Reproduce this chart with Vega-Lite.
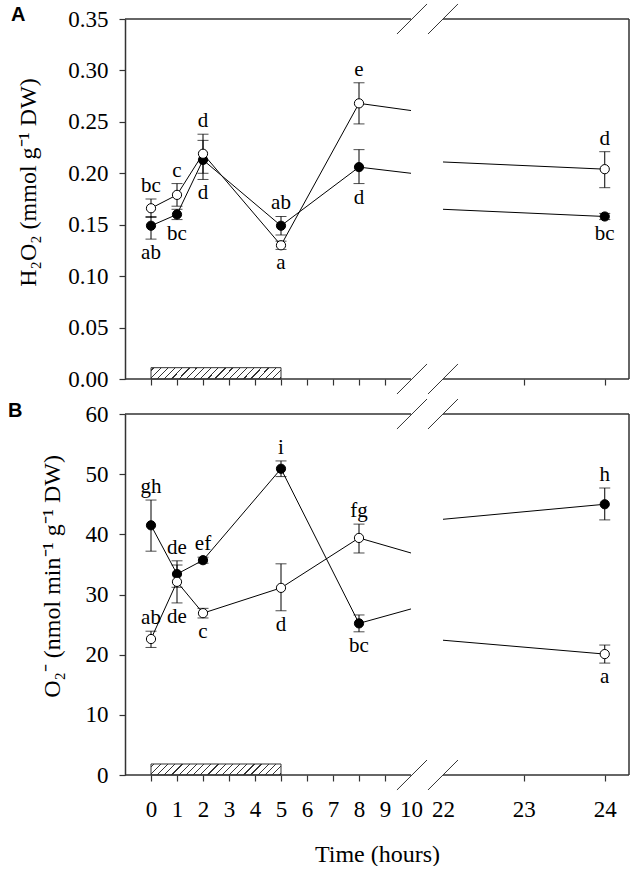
{
  "$schema": "https://vega.github.io/schema/vega-lite/v6.json",
  "padding": {"left": 8, "top": 3, "right": 0, "bottom": 0},
  "spacing": 35,
  "bounds": "flush",
  "datasets": {
    "pts": [
      {"panel": "A", "series": "filled", "t": 0, "v": 0.149, "lo": 0.136, "hi": 0.158, "above": "", "below": "ab"},
      {"panel": "A", "series": "filled", "t": 1, "v": 0.160, "lo": 0.155, "hi": 0.165, "above": "", "below": "bc"},
      {"panel": "A", "series": "filled", "t": 2, "v": 0.213, "lo": 0.194, "hi": 0.232, "above": "", "below": "d"},
      {"panel": "A", "series": "filled", "t": 5, "v": 0.149, "lo": 0.140, "hi": 0.158, "above": "ab", "below": ""},
      {"panel": "A", "series": "filled", "t": 8, "v": 0.206, "lo": 0.190, "hi": 0.223, "above": "", "below": "d"},
      {"panel": "A", "series": "filled", "t": 10, "v": 0.200},
      {"panel": "A", "series": "filled", "t": 22, "v": 0.165},
      {"panel": "A", "series": "filled", "t": 24, "v": 0.158, "lo": 0.155, "hi": 0.161, "above": "", "below": "bc"},
      {"panel": "A", "series": "open", "t": 0, "v": 0.166, "lo": 0.157, "hi": 0.175, "above": "bc", "below": ""},
      {"panel": "A", "series": "open", "t": 1, "v": 0.179, "lo": 0.168, "hi": 0.190, "above": "c", "below": ""},
      {"panel": "A", "series": "open", "t": 2, "v": 0.219, "lo": 0.200, "hi": 0.238, "above": "d", "below": ""},
      {"panel": "A", "series": "open", "t": 5, "v": 0.130, "lo": 0.126, "hi": 0.134, "above": "", "below": "a"},
      {"panel": "A", "series": "open", "t": 8, "v": 0.268, "lo": 0.248, "hi": 0.288, "above": "e", "below": ""},
      {"panel": "A", "series": "open", "t": 10, "v": 0.261},
      {"panel": "A", "series": "open", "t": 22, "v": 0.211},
      {"panel": "A", "series": "open", "t": 24, "v": 0.204, "lo": 0.186, "hi": 0.221, "above": "d", "below": ""},
      {"panel": "B", "series": "filled", "t": 0, "v": 41.5, "lo": 37.2, "hi": 45.7, "above": "gh", "below": ""},
      {"panel": "B", "series": "filled", "t": 1, "v": 33.4, "lo": 31.2, "hi": 35.6, "above": "de", "below": ""},
      {"panel": "B", "series": "filled", "t": 2, "v": 35.7, "lo": 35.2, "hi": 36.2, "above": "ef", "below": ""},
      {"panel": "B", "series": "filled", "t": 5, "v": 50.9, "lo": 49.6, "hi": 52.2, "above": "i", "below": ""},
      {"panel": "B", "series": "filled", "t": 8, "v": 25.2, "lo": 23.8, "hi": 26.6, "above": "", "below": "bc"},
      {"panel": "B", "series": "filled", "t": 10, "v": 27.6},
      {"panel": "B", "series": "filled", "t": 22, "v": 42.5},
      {"panel": "B", "series": "filled", "t": 24, "v": 45.0, "lo": 42.4, "hi": 47.7, "above": "h", "below": ""},
      {"panel": "B", "series": "open", "t": 0, "v": 22.6, "lo": 21.2, "hi": 23.9, "above": "ab", "below": ""},
      {"panel": "B", "series": "open", "t": 1, "v": 32.1, "lo": 28.6, "hi": 34.9, "above": "", "below": "de"},
      {"panel": "B", "series": "open", "t": 2, "v": 26.9, "lo": 26.1, "hi": 27.7, "above": "", "below": "c"},
      {"panel": "B", "series": "open", "t": 5, "v": 31.1, "lo": 27.3, "hi": 35.1, "above": "", "below": "d"},
      {"panel": "B", "series": "open", "t": 8, "v": 39.4, "lo": 36.9, "hi": 41.7, "above": "fg", "below": ""},
      {"panel": "B", "series": "open", "t": 10, "v": 36.9},
      {"panel": "B", "series": "open", "t": 22, "v": 22.4},
      {"panel": "B", "series": "open", "t": 24, "v": 20.1, "lo": 18.6, "hi": 21.6, "above": "", "below": "a"}
    ]
  },
  "vconcat": [
    {
      "width": 504,
      "height": 360,
      "title": {"text": "A", "anchor": "start", "frame": "group", "dx": -114, "offset": -22, "font": "Liberation Sans", "fontSize": 20, "fontWeight": "bold", "color": "black"},
      "layer": [
        {
          "data": {"name": "pts"},
          "transform": [{"filter": "datum.panel == 'A' && datum.t <= 10"}],
          "mark": {"type": "line", "color": "black", "strokeWidth": 1},
          "encoding": {
            "x": {"field": "t", "type": "quantitative", "title": null,
              "scale": {"domain": [-1, 10, 22, 24.3], "range": [0, 286, 318, 504], "nice": false, "zero": false},
              "axis": {"values": [0, 1, 2, 3, 4, 5, 6, 7, 8, 9, 10, 22, 23, 24], "tickCount": 40, "labels": false, "title": null, "domain": false, "labelOverlap": false, "tickOpacity": {"condition": {"test": "datum.value == 10 || datum.value == 22", "value": 0}, "value": 1}}},
            "y": {"field": "v", "type": "quantitative", "title": "H₂O₂ (mmol g⁻¹ DW)",
              "scale": {"domain": [0, 0.35], "nice": false, "zero": false},
              "axis": {"values": [0, 0.05, 0.1, 0.15, 0.2, 0.25, 0.3, 0.35], "tickCount": 20, "format": ".2f", "title": "H₂O₂ (mmol g⁻¹ DW)", "domain": true, "domainWidth": 1.5, "labelFont": "Liberation Serif", "labelFontSize": 23, "labelPadding": 11, "titlePadding": 27, "titleY": 163, "labelOverlap": false, "labelFlush": false}},
            "detail": {"field": "series"}
          }
        },
        {
          "data": {"name": "pts"},
          "transform": [{"filter": "datum.panel == 'A' && datum.t >= 22"}],
          "mark": {"type": "line", "color": "black", "strokeWidth": 1},
          "encoding": {
            "x": {"field": "t", "type": "quantitative", "title": null},
            "y": {"field": "v", "type": "quantitative", "title": "H₂O₂ (mmol g⁻¹ DW)"},
            "detail": {"field": "series"}
          }
        },
        {
          "data": {"values": [{}]},
          "mark": {"type": "rect"},
          "encoding": {"x": {"datum": 0, "type": "quantitative"}, "x2": {"datum": 5}, "y": {"datum": 0, "type": "quantitative"}, "y2": {"datum": 0.011}}
        },
        {"data": {"values": [{}]}, "mark": {"type": "rule", "color": "#333", "strokeWidth": 1.5},
         "encoding": {"x": {"datum": -1, "type": "quantitative"}, "x2": {"datum": 10}, "y": {"datum": 0.35, "type": "quantitative"}}},
        {"data": {"values": [{}]}, "mark": {"type": "rule", "color": "#333", "strokeWidth": 1.5},
         "encoding": {"x": {"datum": 22, "type": "quantitative"}, "x2": {"datum": 24.3}, "y": {"datum": 0.35, "type": "quantitative"}}},
        {"data": {"values": [{}]}, "mark": {"type": "rule", "color": "#333", "strokeWidth": 1.5},
         "encoding": {"x": {"datum": -1, "type": "quantitative"}, "x2": {"datum": 10}, "y": {"datum": 0, "type": "quantitative"}}},
        {"data": {"values": [{}]}, "mark": {"type": "rule", "color": "#333", "strokeWidth": 1.5},
         "encoding": {"x": {"datum": 22, "type": "quantitative"}, "x2": {"datum": 24.3}, "y": {"datum": 0, "type": "quantitative"}}},
        {"data": {"values": [{}]}, "mark": {"type": "rule", "color": "#333", "strokeWidth": 1.5},
         "encoding": {"x": {"datum": 24.3, "type": "quantitative"}, "y": {"datum": 0, "type": "quantitative"}, "y2": {"datum": 0.35}}},
        {"data": {"values": [{}]}, "mark": {"type": "rule", "color": "#333", "strokeWidth": 1},
         "encoding": {"x": {"datum": 9.46, "type": "quantitative"}, "x2": {"datum": 16.0}, "y": {"datum": 0.3354, "type": "quantitative"}, "y2": {"datum": 0.3646}}},
        {"data": {"values": [{}]}, "mark": {"type": "rule", "color": "#333", "strokeWidth": 1},
         "encoding": {"x": {"datum": 16.375, "type": "quantitative"}, "x2": {"datum": 22.185}, "y": {"datum": 0.3354, "type": "quantitative"}, "y2": {"datum": 0.3646}}},
        {"data": {"values": [{}]}, "mark": {"type": "rule", "color": "#333", "strokeWidth": 1},
         "encoding": {"x": {"datum": 9.46, "type": "quantitative"}, "x2": {"datum": 16.0}, "y": {"datum": -0.0146, "type": "quantitative"}, "y2": {"datum": 0.0146}}},
        {"data": {"values": [{}]}, "mark": {"type": "rule", "color": "#333", "strokeWidth": 1},
         "encoding": {"x": {"datum": 16.375, "type": "quantitative"}, "x2": {"datum": 22.185}, "y": {"datum": -0.0146, "type": "quantitative"}, "y2": {"datum": 0.0146}}},
        {
          "data": {"name": "pts"},
          "transform": [{"filter": "datum.panel == 'A' && isValid(datum.lo)"}],
          "mark": {"type": "errorbar", "ticks": {"size": 11, "thickness": 1, "color": "black"}, "rule": {"color": "black", "strokeWidth": 1}},
          "encoding": {
            "x": {"field": "t", "type": "quantitative", "title": null},
            "y": {"field": "lo", "type": "quantitative", "title": "H₂O₂ (mmol g⁻¹ DW)"},
            "y2": {"field": "hi"},
            "detail": {"field": "series"}
          }
        },
        {
          "data": {"name": "pts"},
          "transform": [{"filter": "datum.panel == 'A' && isValid(datum.lo)"}],
          "mark": {"type": "point", "shape": "circle", "filled": false, "size": 85, "stroke": "black", "strokeWidth": 1, "opacity": 1},
          "encoding": {
            "x": {"field": "t", "type": "quantitative", "title": null},
            "y": {"field": "v", "type": "quantitative", "title": "H₂O₂ (mmol g⁻¹ DW)"},
            "fill": {"field": "series", "type": "nominal", "scale": {"domain": ["filled", "open"], "range": ["black", "white"]}, "legend": null}
          }
        },
        {
          "data": {"name": "pts"},
          "transform": [{"filter": "datum.panel == 'A' && datum.above != null && datum.above != ''"}],
          "mark": {"type": "text", "font": "Liberation Serif", "fontSize": 21, "color": "black", "baseline": "alphabetic", "align": "center", "dy": -7},
          "encoding": {
            "x": {"field": "t", "type": "quantitative", "title": null},
            "y": {"field": "hi", "type": "quantitative", "title": "H₂O₂ (mmol g⁻¹ DW)"},
            "text": {"field": "above"}
          }
        },
        {
          "data": {"name": "pts"},
          "transform": [{"filter": "datum.panel == 'A' && datum.below != null && datum.below != ''"}],
          "mark": {"type": "text", "font": "Liberation Serif", "fontSize": 21, "color": "black", "baseline": "alphabetic", "align": "center", "dy": 20},
          "encoding": {
            "x": {"field": "t", "type": "quantitative", "title": null},
            "y": {"field": "lo", "type": "quantitative", "title": "H₂O₂ (mmol g⁻¹ DW)"},
            "text": {"field": "below"}
          }
        }
      ]
    },
    {
      "width": 504,
      "height": 361,
      "title": {"text": "B", "anchor": "start", "frame": "group", "dx": -117, "offset": -22, "font": "Liberation Sans", "fontSize": 20, "fontWeight": "bold", "color": "black"},
      "layer": [
        {
          "data": {"name": "pts"},
          "transform": [{"filter": "datum.panel == 'B' && datum.t <= 10"}],
          "mark": {"type": "line", "color": "black", "strokeWidth": 1},
          "encoding": {
            "x": {"field": "t", "type": "quantitative", "title": "Time (hours)",
              "scale": {"domain": [-1, 10, 22, 24.3], "range": [0, 286, 318, 504], "nice": false, "zero": false},
              "axis": {"values": [0, 1, 2, 3, 4, 5, 6, 7, 8, 9, 10, 22, 23, 24], "tickCount": 40, "format": "d", "title": "Time (hours)", "domain": false, "labelFont": "Liberation Serif", "labelFontSize": 23, "labelPadding": 17, "titlePadding": 21, "labelFlush": false, "labelOverlap": false, "tickOpacity": {"condition": {"test": "datum.value == 10 || datum.value == 22", "value": 0}, "value": 1}}},
            "y": {"field": "v", "type": "quantitative", "title": "O₂⁻ (nmol min⁻¹ g⁻¹ DW)",
              "scale": {"domain": [0, 60], "nice": false, "zero": false},
              "axis": {"values": [0, 10, 20, 30, 40, 50, 60], "tickCount": 20, "format": "d", "title": "O₂⁻ (nmol min⁻¹ g⁻¹ DW)", "domain": true, "domainWidth": 1.5, "labelFont": "Liberation Serif", "labelFontSize": 23, "labelPadding": 11, "titlePadding": 21, "titleY": 162, "labelOverlap": false, "labelFlush": false}},
            "detail": {"field": "series"}
          }
        },
        {
          "data": {"name": "pts"},
          "transform": [{"filter": "datum.panel == 'B' && datum.t >= 22"}],
          "mark": {"type": "line", "color": "black", "strokeWidth": 1},
          "encoding": {
            "x": {"field": "t", "type": "quantitative", "title": "Time (hours)"},
            "y": {"field": "v", "type": "quantitative", "title": "O₂⁻ (nmol min⁻¹ g⁻¹ DW)"},
            "detail": {"field": "series"}
          }
        },
        {
          "data": {"values": [{}]},
          "mark": {"type": "rect"},
          "encoding": {"x": {"datum": 0, "type": "quantitative"}, "x2": {"datum": 5}, "y": {"datum": 0, "type": "quantitative"}, "y2": {"datum": 1.83}}
        },
        {"data": {"values": [{}]}, "mark": {"type": "rule", "color": "#333", "strokeWidth": 1.5},
         "encoding": {"x": {"datum": -1, "type": "quantitative"}, "x2": {"datum": 10}, "y": {"datum": 60, "type": "quantitative"}}},
        {"data": {"values": [{}]}, "mark": {"type": "rule", "color": "#333", "strokeWidth": 1.5},
         "encoding": {"x": {"datum": 22, "type": "quantitative"}, "x2": {"datum": 24.3}, "y": {"datum": 60, "type": "quantitative"}}},
        {"data": {"values": [{}]}, "mark": {"type": "rule", "color": "#333", "strokeWidth": 1.5},
         "encoding": {"x": {"datum": -1, "type": "quantitative"}, "x2": {"datum": 10}, "y": {"datum": 0, "type": "quantitative"}}},
        {"data": {"values": [{}]}, "mark": {"type": "rule", "color": "#333", "strokeWidth": 1.5},
         "encoding": {"x": {"datum": 22, "type": "quantitative"}, "x2": {"datum": 24.3}, "y": {"datum": 0, "type": "quantitative"}}},
        {"data": {"values": [{}]}, "mark": {"type": "rule", "color": "#333", "strokeWidth": 1.5},
         "encoding": {"x": {"datum": 24.3, "type": "quantitative"}, "y": {"datum": 0, "type": "quantitative"}, "y2": {"datum": 60}}},
        {"data": {"values": [{}]}, "mark": {"type": "rule", "color": "#333", "strokeWidth": 1},
         "encoding": {"x": {"datum": 9.46, "type": "quantitative"}, "x2": {"datum": 16.0}, "y": {"datum": 57.51, "type": "quantitative"}, "y2": {"datum": 62.49}}},
        {"data": {"values": [{}]}, "mark": {"type": "rule", "color": "#333", "strokeWidth": 1},
         "encoding": {"x": {"datum": 16.375, "type": "quantitative"}, "x2": {"datum": 22.185}, "y": {"datum": 57.51, "type": "quantitative"}, "y2": {"datum": 62.49}}},
        {"data": {"values": [{}]}, "mark": {"type": "rule", "color": "#333", "strokeWidth": 1},
         "encoding": {"x": {"datum": 9.46, "type": "quantitative"}, "x2": {"datum": 16.0}, "y": {"datum": -2.49, "type": "quantitative"}, "y2": {"datum": 2.49}}},
        {"data": {"values": [{}]}, "mark": {"type": "rule", "color": "#333", "strokeWidth": 1},
         "encoding": {"x": {"datum": 16.375, "type": "quantitative"}, "x2": {"datum": 22.185}, "y": {"datum": -2.49, "type": "quantitative"}, "y2": {"datum": 2.49}}},
        {
          "data": {"name": "pts"},
          "transform": [{"filter": "datum.panel == 'B' && isValid(datum.lo)"}],
          "mark": {"type": "errorbar", "ticks": {"size": 11, "thickness": 1, "color": "black"}, "rule": {"color": "black", "strokeWidth": 1}},
          "encoding": {
            "x": {"field": "t", "type": "quantitative", "title": "Time (hours)"},
            "y": {"field": "lo", "type": "quantitative", "title": "O₂⁻ (nmol min⁻¹ g⁻¹ DW)"},
            "y2": {"field": "hi"},
            "detail": {"field": "series"}
          }
        },
        {
          "data": {"name": "pts"},
          "transform": [{"filter": "datum.panel == 'B' && isValid(datum.lo)"}],
          "mark": {"type": "point", "shape": "circle", "filled": false, "size": 85, "stroke": "black", "strokeWidth": 1, "opacity": 1},
          "encoding": {
            "x": {"field": "t", "type": "quantitative", "title": "Time (hours)"},
            "y": {"field": "v", "type": "quantitative", "title": "O₂⁻ (nmol min⁻¹ g⁻¹ DW)"},
            "fill": {"field": "series", "type": "nominal", "scale": {"domain": ["filled", "open"], "range": ["black", "white"]}, "legend": null}
          }
        },
        {
          "data": {"name": "pts"},
          "transform": [{"filter": "datum.panel == 'B' && datum.above != null && datum.above != ''"}],
          "mark": {"type": "text", "font": "Liberation Serif", "fontSize": 21, "color": "black", "baseline": "alphabetic", "align": "center", "dy": -7},
          "encoding": {
            "x": {"field": "t", "type": "quantitative", "title": "Time (hours)"},
            "y": {"field": "hi", "type": "quantitative", "title": "O₂⁻ (nmol min⁻¹ g⁻¹ DW)"},
            "text": {"field": "above"}
          }
        },
        {
          "data": {"name": "pts"},
          "transform": [{"filter": "datum.panel == 'B' && datum.below != null && datum.below != ''"}],
          "mark": {"type": "text", "font": "Liberation Serif", "fontSize": 21, "color": "black", "baseline": "alphabetic", "align": "center", "dy": 20},
          "encoding": {
            "x": {"field": "t", "type": "quantitative", "title": "Time (hours)"},
            "y": {"field": "lo", "type": "quantitative", "title": "O₂⁻ (nmol min⁻¹ g⁻¹ DW)"},
            "text": {"field": "below"}
          }
        }
      ]
    }
  ],
  "config": {
    "view": {"stroke": null},
    "axis": {"grid": false, "labelFont": "Liberation Serif", "labelFontSize": 23, "labelColor": "black", "labelOverlap": false, "titleFont": "Liberation Serif", "titleFontSize": 24, "titleFontWeight": "normal", "titleColor": "black", "tickColor": "#333", "tickSize": 6, "tickWidth": 1.2, "domainColor": "#333"},
    "rect": {
      "stroke": "#333",
      "strokeWidth": 1,
      "fill": {"gradient": "linear", "x1": 0, "y1": 0, "x2": 1.077, "y2": 0.0911, "stops": [
        {"offset": 0, "color": "white"},
        {"offset": 0.015, "color": "white"}, {"offset": 0.015, "color": "#333"}, {"offset": 0.024, "color": "#333"}, {"offset": 0.024, "color": "white"},
        {"offset": 0.066, "color": "white"}, {"offset": 0.066, "color": "#333"}, {"offset": 0.075, "color": "#333"}, {"offset": 0.075, "color": "white"},
        {"offset": 0.117, "color": "white"}, {"offset": 0.117, "color": "#333"}, {"offset": 0.126, "color": "#333"}, {"offset": 0.126, "color": "white"},
        {"offset": 0.168, "color": "white"}, {"offset": 0.168, "color": "#333"}, {"offset": 0.177, "color": "#333"}, {"offset": 0.177, "color": "white"},
        {"offset": 0.219, "color": "white"}, {"offset": 0.219, "color": "#333"}, {"offset": 0.228, "color": "#333"}, {"offset": 0.228, "color": "white"},
        {"offset": 0.270, "color": "white"}, {"offset": 0.270, "color": "#333"}, {"offset": 0.279, "color": "#333"}, {"offset": 0.279, "color": "white"},
        {"offset": 0.321, "color": "white"}, {"offset": 0.321, "color": "#333"}, {"offset": 0.330, "color": "#333"}, {"offset": 0.330, "color": "white"},
        {"offset": 0.372, "color": "white"}, {"offset": 0.372, "color": "#333"}, {"offset": 0.381, "color": "#333"}, {"offset": 0.381, "color": "white"},
        {"offset": 0.423, "color": "white"}, {"offset": 0.423, "color": "#333"}, {"offset": 0.432, "color": "#333"}, {"offset": 0.432, "color": "white"},
        {"offset": 0.474, "color": "white"}, {"offset": 0.474, "color": "#333"}, {"offset": 0.483, "color": "#333"}, {"offset": 0.483, "color": "white"},
        {"offset": 0.525, "color": "white"}, {"offset": 0.525, "color": "#333"}, {"offset": 0.534, "color": "#333"}, {"offset": 0.534, "color": "white"},
        {"offset": 0.576, "color": "white"}, {"offset": 0.576, "color": "#333"}, {"offset": 0.585, "color": "#333"}, {"offset": 0.585, "color": "white"},
        {"offset": 0.627, "color": "white"}, {"offset": 0.627, "color": "#333"}, {"offset": 0.636, "color": "#333"}, {"offset": 0.636, "color": "white"},
        {"offset": 0.678, "color": "white"}, {"offset": 0.678, "color": "#333"}, {"offset": 0.687, "color": "#333"}, {"offset": 0.687, "color": "white"},
        {"offset": 0.729, "color": "white"}, {"offset": 0.729, "color": "#333"}, {"offset": 0.738, "color": "#333"}, {"offset": 0.738, "color": "white"},
        {"offset": 0.780, "color": "white"}, {"offset": 0.780, "color": "#333"}, {"offset": 0.789, "color": "#333"}, {"offset": 0.789, "color": "white"},
        {"offset": 0.831, "color": "white"}, {"offset": 0.831, "color": "#333"}, {"offset": 0.840, "color": "#333"}, {"offset": 0.840, "color": "white"},
        {"offset": 0.882, "color": "white"}, {"offset": 0.882, "color": "#333"}, {"offset": 0.891, "color": "#333"}, {"offset": 0.891, "color": "white"},
        {"offset": 0.933, "color": "white"}, {"offset": 0.933, "color": "#333"}, {"offset": 0.942, "color": "#333"}, {"offset": 0.942, "color": "white"},
        {"offset": 0.984, "color": "white"}, {"offset": 0.984, "color": "#333"}, {"offset": 0.993, "color": "#333"}, {"offset": 0.993, "color": "white"},
        {"offset": 1, "color": "white"}
      ]}
    }
  }
}
